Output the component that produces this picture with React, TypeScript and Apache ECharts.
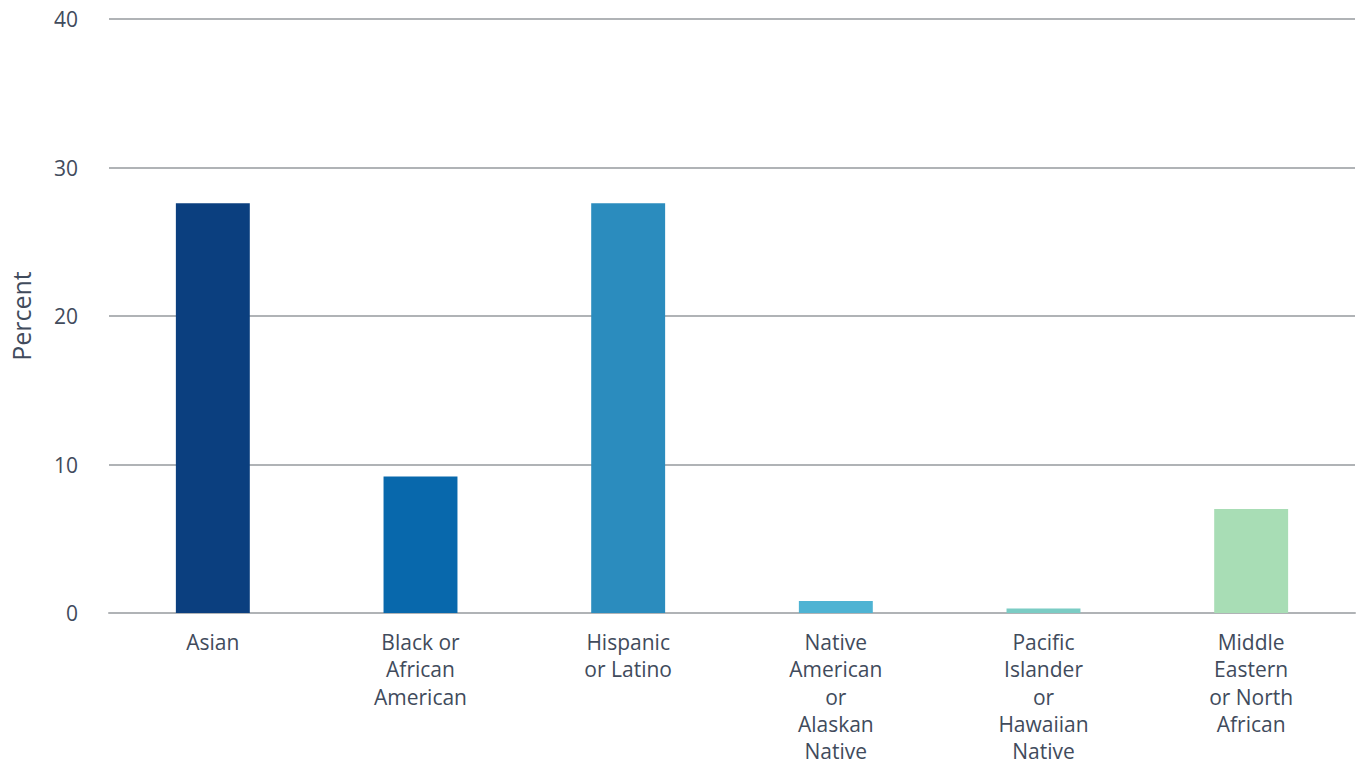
import React, { useEffect, useRef } from "react";
import * as echarts from "echarts";

const categories = [
  "Asian",
  "Black or\nAfrican\nAmerican",
  "Hispanic\nor Latino",
  "Native\nAmerican\nor\nAlaskan\nNative",
  "Pacific\nIslander\nor\nHawaiian\nNative",
  "Middle\nEastern\nor North\nAfrican",
];
const values = [27.6, 9.2, 27.6, 0.8, 0.3, 7.0];
const barColors = ["#0b3f7f", "#0868ac", "#2b8cbe", "#4eb3d3", "#7bccc4", "#a8ddb5"];
const yTicks = [0, 10, 20, 30, 40];

const FONT = "'Open Sans', sans-serif";
const TEXT = "#414b5c";
const GRIDC = "#b0b3b6";

export default function App() {
  const ref = useRef<HTMLDivElement>(null);
  useEffect(() => {
    const chart = echarts.init(ref.current!, undefined, { renderer: "svg" });
    chart.setOption({
      animation: false,
      grid: {
        left: 109,
        right: 7,
        top: 19,
        bottom: 151,
        containLabel: false,
        outerBoundsMode: "none",
      },
      xAxis: {
        type: "category",
        data: categories,
        axisTick: { show: false },
        axisLine: { show: true, lineStyle: { color: GRIDC, width: 2 } },
        axisLabel: {
          color: TEXT,
          fontFamily: FONT,
          fontSize: 21,
          lineHeight: 27.2,
          margin: 15.5,
          interval: 0,
          align: "center",
        },
      },
      yAxis: {
        type: "value",
        min: yTicks[0],
        max: yTicks[yTicks.length - 1],
        interval: 10,
        name: "Percent",
        nameLocation: "middle",
        nameGap: 76,
        nameRotate: 90,
        nameTextStyle: { color: TEXT, fontFamily: FONT, fontSize: 25 },
        axisLine: { show: false },
        axisTick: { show: false },
        splitLine: { lineStyle: { color: GRIDC, width: 2 } },
        axisLabel: { color: TEXT, fontFamily: FONT, fontSize: 21, margin: 31 },
      },
      series: [
        {
          type: "bar",
          data: values.map((v, i) => ({ value: v, itemStyle: { color: barColors[i] } })),
          barWidth: "35.6%",
        },
      ],
    });
    return () => chart.dispose();
  }, []);
  return (
    <div
      ref={ref}
      style={{ position: "absolute", left: 0, top: 0, width: 1362, height: 764, background: "#fff" }}
    />
  );
}
